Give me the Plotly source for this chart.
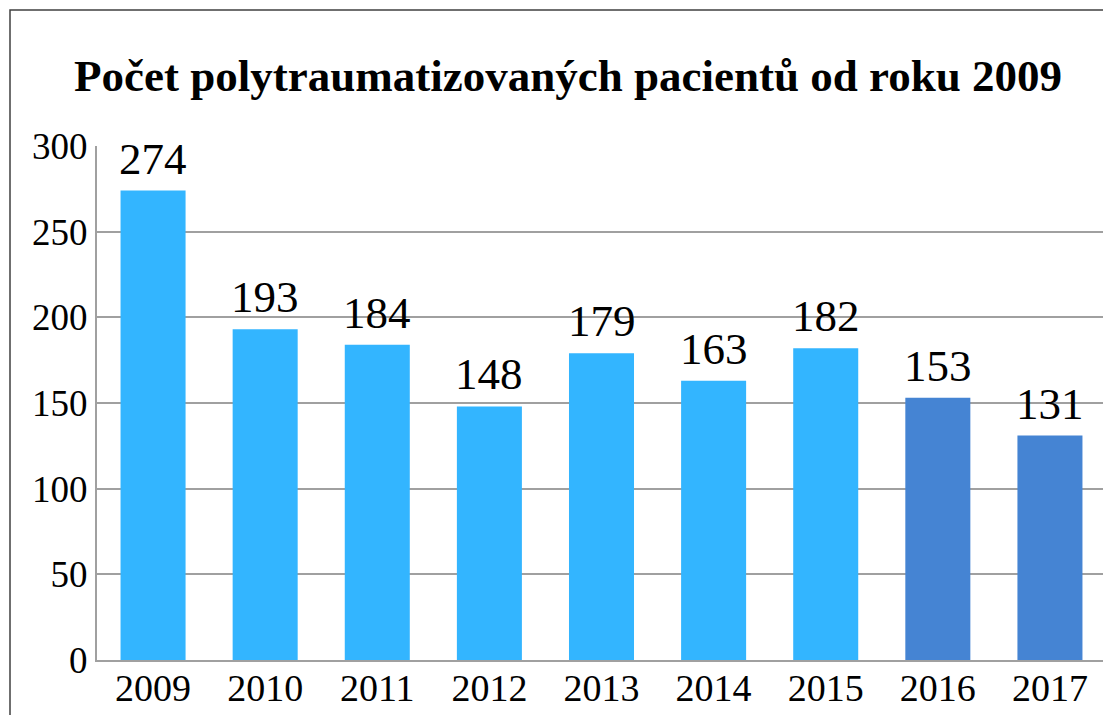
import plotly.graph_objects as go

years = ["2009", "2010", "2011", "2012", "2013", "2014", "2015", "2016", "2017"]
patients = [274, 193, 184, 148, 179, 163, 182, 153, 131]
light_blue = "#33B5FF"
dark_blue = "#4584D3"
bar_colors = [light_blue] * 7 + [dark_blue] * 2
y_ticks = [0, 50, 100, 150, 200, 250, 300]

font_family = "Liberation Serif, Times New Roman, serif"

# page body has an 8px margin, so the figure is laid out 8px smaller
W, H = 1103, 707
L, T, R, B = 89, 138, 5, 55
PW = W - L - R
PH = H - T - B

fig = go.Figure(
    go.Bar(
        x=years,
        y=patients,
        marker=dict(color=bar_colors, line=dict(width=0)),
        cliponaxis=False,
    )
)

# value labels above bars (category index positions on the category axis)
for i, v in enumerate(patients):
    fig.add_annotation(
        x=i,
        y=v,
        xref="x",
        yref="y",
        text=str(v),
        showarrow=False,
        yanchor="bottom",
        yshift=5,
        font=dict(family=font_family, size=45, color="black"),
    )

fig.update_layout(
    width=W,
    height=H,
    margin=dict(l=L, r=R, t=T, b=B, autoexpand=False),
    paper_bgcolor="white",
    plot_bgcolor="white",
    bargap=0.42,
    showlegend=False,
    title=dict(
        text="<b>Počet polytraumatizovaných pacientů od roku 2009</b>",
        x=560 / W,
        xanchor="center",
        xref="container",
        y=1 - 67 / H,
        yanchor="middle",
        yref="container",
        font=dict(family=font_family, size=45, color="black"),
    ),
    font=dict(family=font_family, color="black"),
)

fig.update_xaxes(
    type="category",
    range=[-0.5, len(years) - 0.5],
    tickfont=dict(family=font_family, size=38, color="black"),
    showgrid=False,
    showline=True,
    linecolor="#A0A0A0",
    linewidth=2,
    ticks="",
    automargin=False,
    ticklabelstandoff=-7,
)
fig.update_yaxes(
    range=[0, 300],
    tickvals=y_ticks,
    tickfont=dict(family=font_family, size=37, color="black"),
    showgrid=True,
    gridcolor="#A0A0A0",
    gridwidth=2,
    showline=True,
    linecolor="#A0A0A0",
    linewidth=2,
    zeroline=False,
    ticks="",
    automargin=False,
)

# outer chart border
fig.add_shape(
    type="rect",
    xref="paper",
    yref="paper",
    x0=(2 - L) / PW,
    x1=(W + 10 - L) / PW,
    y0=-(B + 10) / PH,
    y1=(H - B - 2) / PH,
    line=dict(color="#404040", width=1.5),
    fillcolor="rgba(0,0,0,0)",
    layer="below",
)

fig.write_html("out.html")
